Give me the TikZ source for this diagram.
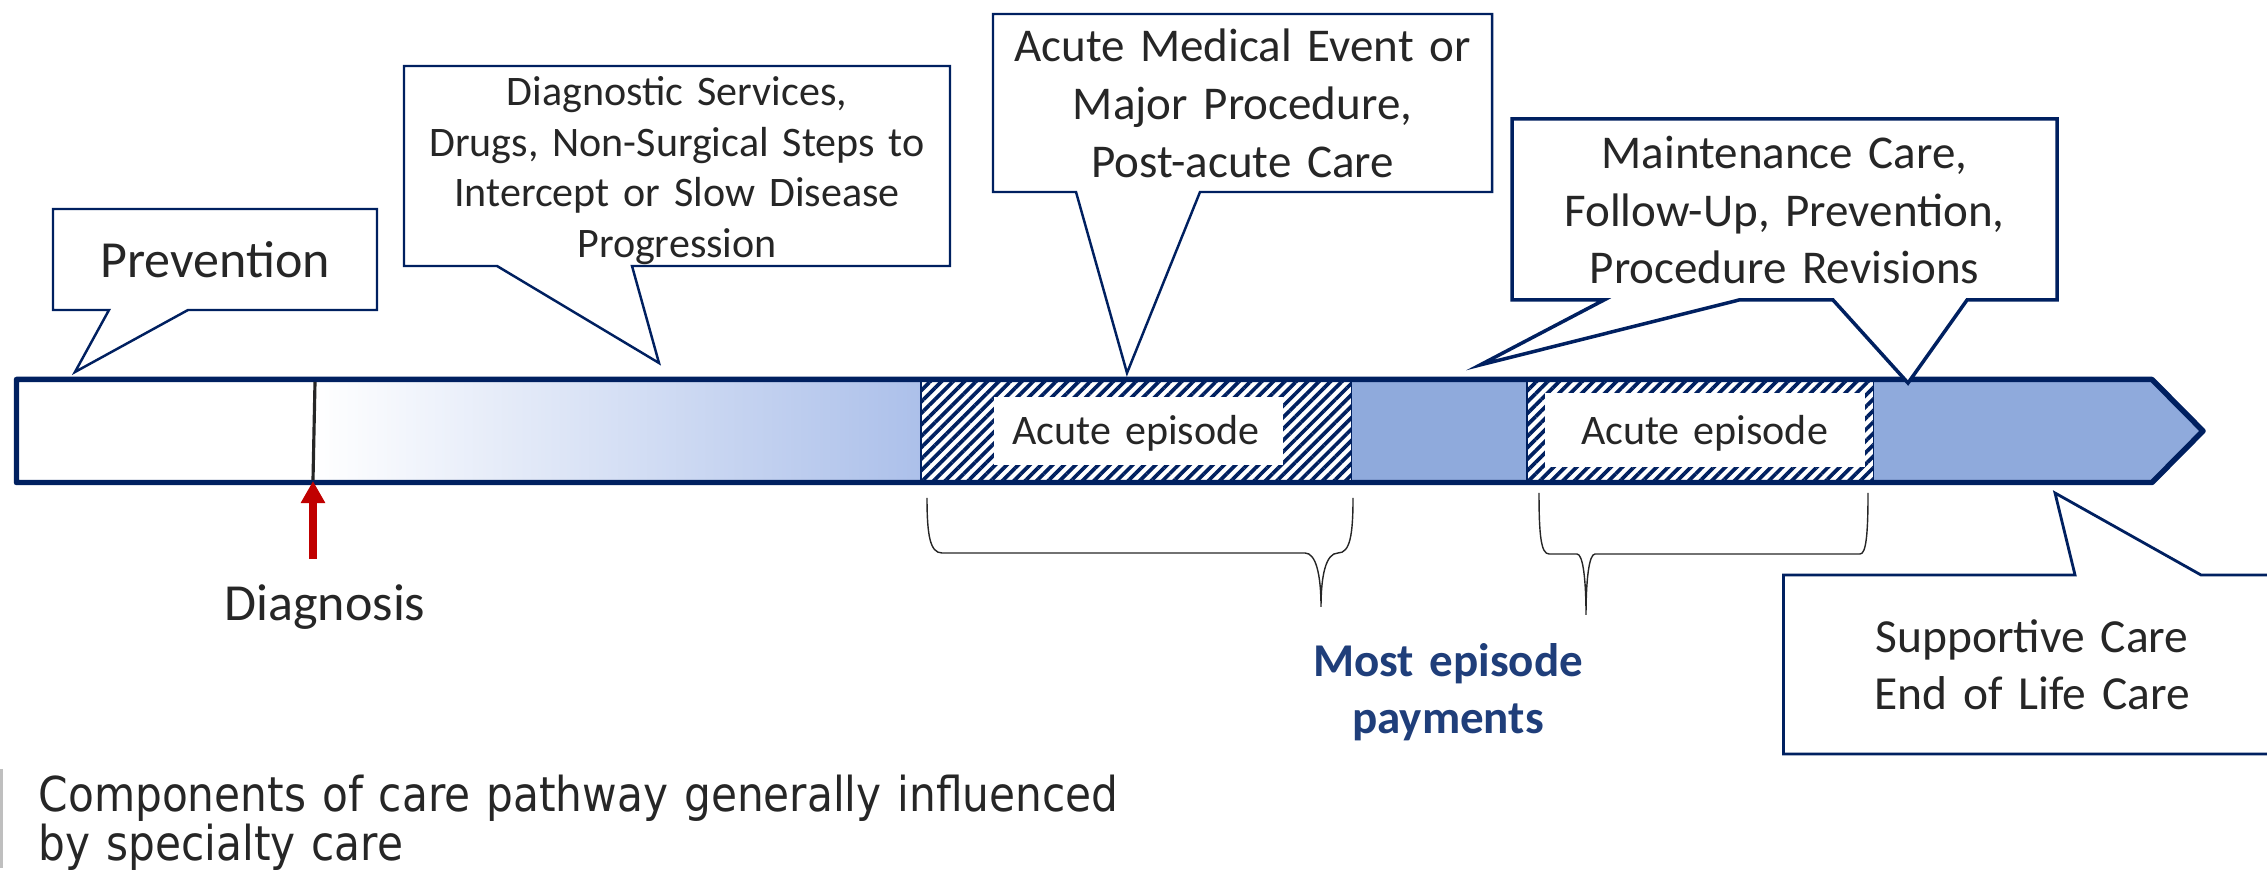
\documentclass[tikz,border=0pt]{standalone}
\usepackage{fontspec}
\setmainfont{Carlito}
\newfontfamily\capfont[FakeStretch=0.88]{DejaVu Sans}
\usetikzlibrary{patterns.meta,arrows.meta}
\definecolor{navy}{RGB}{0,32,96}
\definecolor{txtgray}{RGB}{38,38,38}
\definecolor{barblue}{RGB}{143,170,220}
\definecolor{gradblue}{RGB}{172,192,234}
\definecolor{paytxt}{RGB}{31,62,122}
\definecolor{redarrow}{RGB}{192,0,0}
\definecolor{capbar}{RGB}{191,191,191}
\begin{document}
\begin{tikzpicture}[x=0.01cm,y=-0.01cm,
  callout/.style={draw=navy,line width=0.7pt,fill=white,line join=miter},
  lbl/.style={text=txtgray,inner sep=0pt,anchor=base,align=center,text width=7cm},
  fbig/.style={font=\fontsize{14.8pt}{17.8pt}\selectfont},
  fmid/.style={font=\fontsize{13.37pt}{16.36pt}\selectfont},
  fsmall/.style={font=\fontsize{11.95pt}{14.37pt}\selectfont},
  hatchbox/.style={pattern={Lines[angle=45,distance=2.3pt,line width=1.05pt]},pattern color=navy},
  brace/.style={draw=txtgray,line width=0.4pt},
]
\useasboundingbox (0,0) rectangle (2267,877);

% ---- bar fills ----
\fill[white] (16.5,379.5) rectangle (314,482.5);
\shade[left color=white,right color=gradblue] (314,379.5) rectangle (921,482.5);
\fill[white] (921,379.5) rectangle (1352,482.5);
\fill[hatchbox] (921,379.5) rectangle (1352,482.5);
\draw[navy,line width=0.6pt] (921,379.5) -- (921,482.5) (1352,379.5) -- (1352,482.5);
\fill[white] (994,397) rectangle (1283,465);
\fill[barblue] (1352,379.5) rectangle (1527,482.5);
\fill[white] (1527,379.5) rectangle (1874,482.5);
\fill[hatchbox] (1527,379.5) rectangle (1874,482.5);
\draw[navy,line width=0.6pt] (1527,379.5) -- (1527,482.5) (1874,379.5) -- (1874,482.5);
\fill[white] (1545,393) rectangle (1865,467);
\fill[barblue] (1874,379.5) -- (2152,379.5) -- (2203,431) -- (2152,482.5) -- (1874,482.5) -- cycle;
\draw[navy,line width=1.56pt,line join=round] (16.5,379.5) -- (2152,379.5) -- (2203,431) -- (2152,482.5) -- (16.5,482.5) -- cycle;

\node[lbl,fsmall] (ep1) at (1136,445) {Acute episode};
\node[lbl,fsmall] (ep2) at (1704.5,445) {Acute episode};

% ---- diagnosis marker ----
\coordinate (dtop) at (315,382);
\coordinate (dbot) at (313,480);
\draw[txtgray,line width=0.9pt] (dtop) -- (dbot);
\coordinate (arrstart) at (313,559);
\coordinate (arrtip) at (313,481);
\draw[redarrow,line width=2.2pt,-{Triangle[length=6.3pt,width=6.6pt]}] (arrstart) -- (arrtip);
\node[lbl,fbig] (diagnosis) at (325,621) {Diagnosis};

% ---- callouts ----
\draw[callout] (53,209) -- (377,209) -- (377,310) -- (188,310) -- (75,372) -- (109,310) -- (53,310) -- cycle;
\node[lbl,fbig] (prevention) at (215,278) {Prevention};

\draw[callout] (404,66) -- (950,66) -- (950,266) -- (632,266) -- (659,363) -- (497,266) -- (404,266) -- cycle;
\node[lbl,fsmall] (diagserv) at (677,105.5) {Diagnostic Services,\\ Drugs, Non-Surgical Steps to\\ Intercept or Slow Disease\\ Progression};

\draw[callout] (993,14) -- (1492,14) -- (1492,192) -- (1200,192) -- (1127,373) -- (1076,192) -- (993,192) -- cycle;
\node[lbl,fmid] (acutemed) at (1242.5,62) {Acute Medical Event or\\ Major Procedure,\\ Post-acute Care};

\draw[callout,line width=1pt] (1512,119) -- (2057,119) -- (2057,300) -- (1967,300) -- (1908,383) -- (1833,300) -- (1739,300) -- (1480,365) -- (1604,300) -- (1512,300) -- cycle;
\node[lbl,fmid] (maint) at (1784.5,168.5) {Maintenance Care,\\ Follow-Up, Prevention,\\ Procedure Revisions};

\draw[callout,line width=0.8pt] (1783.5,575) -- (2075,575) -- (2055,493) -- (2201,575) -- (2300,575) -- (2300,754) -- (1783.5,754) -- cycle;
\node[lbl,font=\fontsize{13.5pt}{16.07pt}\selectfont] (supportive) at (2032,652.5) {Supportive Care\\ End of Life Care};

% ---- braces ----
\draw[brace] (927,498) .. controls (927,535) and (930,553) .. (942,553) -- (1305,553)
  .. controls (1316,553) and (1321,575) .. (1321,607)
  .. controls (1321,575) and (1326,553) .. (1338,553)
  .. controls (1350,553) and (1353,535) .. (1353,498);
\draw[brace] (1539,493) .. controls (1539,535) and (1541,554) .. (1549,554) -- (1577,554)
  .. controls (1583,554) and (1586,580) .. (1586,615)
  .. controls (1586,580) and (1589,554) .. (1595,554) -- (1860,554)
  .. controls (1866,554) and (1868,535) .. (1868,493);

\node[lbl,text=paytxt,font=\fontsize{13.37pt}{15.93pt}\selectfont\bfseries] (payments) at (1448,677) {Most episode\\ payments};

% ---- caption ----
\draw[capbar,line width=0.85pt] (1.5,769) -- (1.5,868);
\node[text=txtgray,inner sep=0pt,anchor=base west,align=left,text width=14cm,font=\capfont\fontsize{13.66pt}{13.66pt}\selectfont] (caption) at (38,812) {Components of care pathway generally influenced\\ by specialty care};
\end{tikzpicture}
\end{document}
